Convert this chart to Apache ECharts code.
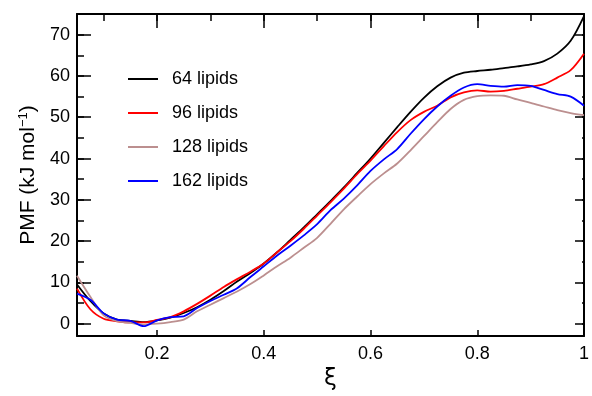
<!DOCTYPE html>
<html>
<head>
<meta charset="utf-8">
<script src="https://cdn.jsdelivr.net/npm/echarts@6/dist/echarts.min.js"></script>
<style>
  html, body { margin: 0; padding: 0; background: #fff; }
  #chart { width: 592px; height: 396px; }
</style>
</head>
<body>
<div id="chart"></div>
<script>
const xs = [0.05, 0.075, 0.1, 0.125, 0.15, 0.175, 0.2, 0.225, 0.25, 0.275, 0.3, 0.325, 0.35,
  0.375, 0.4, 0.425, 0.45, 0.475, 0.5, 0.525, 0.55, 0.575, 0.6, 0.625, 0.65, 0.675, 0.7,
  0.725, 0.75, 0.775, 0.8, 0.825, 0.85, 0.875, 0.9, 0.925, 0.95, 0.975, 1.0];

const lipids64 = [9.5, 5.5, 2.5, 1.0, 0.7, 0.4, 0.8, 1.5, 2.6, 4.0, 5.8, 7.9, 10.2,
  12.3, 14.6, 17.3, 20.3, 23.3, 26.5, 29.7, 33.0, 36.5, 40.0, 43.8, 47.6, 51.3, 54.7,
  57.5, 59.6, 60.8, 61.2, 61.5, 61.9, 62.3, 62.8, 63.6, 65.4, 68.5, 74.5];

const lipids96 = [8.5, 3.5, 1.2, 0.6, 0.3, 0.3, 0.9, 1.6, 3.0, 4.8, 6.8, 8.9, 10.8,
  12.6, 14.6, 17.3, 20.0, 23.0, 26.2, 29.4, 32.7, 36.2, 39.5, 43.0, 46.4, 49.3, 51.3,
  52.8, 54.8, 56.0, 56.5, 56.2, 56.4, 56.9, 57.4, 58.0, 59.6, 61.4, 65.4];

const lipids128 = [11.6, 6.5, 2.0, 0.6, 0.2, -0.2, 0.0, 0.4, 1.0, 3.0, 4.6, 6.2, 7.8,
  9.6, 11.7, 13.9, 16.0, 18.4, 20.8, 24.2, 27.7, 30.8, 33.8, 36.4, 38.8, 42.0, 45.4,
  48.8, 52.0, 54.2, 55.1, 55.3, 55.2, 54.3, 53.5, 52.6, 51.7, 51.0, 50.5];

const lipids162 = [7.3, 5.8, 2.5, 1.0, 0.7, -0.6, 0.8, 1.6, 1.8, 3.8, 5.5, 7.0, 8.6,
  11.3, 13.9, 16.5, 18.9, 21.4, 24.1, 27.5, 30.3, 33.5, 37.0, 39.8, 42.3, 46.0, 49.5,
  52.6, 55.2, 57.2, 58.0, 57.6, 57.4, 57.8, 57.6, 56.6, 55.6, 55.0, 52.8];

const seriesNames = ['64 lipids', '96 lipids', '128 lipids', '162 lipids'];
const seriesColors = ['#000000', '#ff0000', '#bc8f8f', '#0000ff'];
const seriesValues = [lipids64, lipids96, lipids128, lipids162];

const font = 'Liberation Sans, Arial, sans-serif';
const chart = echarts.init(document.getElementById('chart'));

const PLOT_W = 512, PLOT_H = 330;

function frameX(position, labels) {
  return {
    type: 'value', min: 0.05, max: 1, splitNumber: 5, position,
    axisLine: { show: true, onZero: false, lineStyle: { color: '#000', width: 2 } },
    axisTick: { show: false },
    splitLine: { show: false },
    axisLabel: labels ? { show: true, fontSize: 18, color: '#000', margin: 9, fontFamily: font,
      showMinLabel: false, formatter: v => (Math.abs(v - 1) < 1e-9 ? '1' : v.toFixed(1)) } : { show: false }
  };
}
function frameY(position, labels) {
  return {
    type: 'value', min: -3, max: 75, splitNumber: 8, position,
    axisLine: { show: true, onZero: false, lineStyle: { color: '#000', width: 2 } },
    axisTick: { show: false },
    splitLine: { show: false },
    axisLabel: labels ? { show: true, fontSize: 18, color: '#000', margin: 7, fontFamily: font,
      showMinLabel: false, showMaxLabel: false } : { show: false }
  };
}
// inside ticks don't render here: fake them with split lines dashed so only both ends show
function tickX(len, splitNumber) {
  return {
    type: 'value', min: 0.05, max: 1, splitNumber, position: 'bottom',
    axisLine: { show: false, onZero: false },
    axisTick: { show: false },
    axisLabel: { show: false },
    splitLine: { show: true, lineStyle: { color: '#000', width: 1.5,
      type: [len, PLOT_H - 2 * len, len, 1000] } }
  };
}
function tickY(len, splitNumber) {
  return {
    type: 'value', min: -3, max: 75, splitNumber, position: 'left',
    axisLine: { show: false, onZero: false },
    axisTick: { show: false },
    axisLabel: { show: false },
    splitLine: { show: true, lineStyle: { color: '#000', width: 1.5,
      type: [len, PLOT_W - 2 * len, len, 1000] } }
  };
}

const xMain = frameX('bottom', true);
xMain.name = 'ξ';
xMain.nameLocation = 'middle';
xMain.nameGap = 30;
xMain.nameTextStyle = { fontSize: 23, fontFamily: 'DejaVu Sans, sans-serif', color: '#000' };

const yMain = frameY('left', true);
yMain.name = '{n|PMF (kJ mol}{s|−1}{n|)}';
yMain.nameLocation = 'middle';
yMain.nameGap = 35;
yMain.nameRotate = 90;
yMain.nameTextStyle = { rich: {
  n: { fontSize: 21, fontFamily: font, color: '#000' },
  s: { fontSize: 13, fontFamily: font, color: '#000', verticalAlign: 'top', padding: [0, 0, 10, 0] }
} };

chart.setOption({
  animation: false,
  backgroundColor: '#fff',
  textStyle: { fontFamily: font },
  grid: { show: false, left: 77, right: 3, top: 14, bottom: 52, containLabel: false },
  legend: {
    data: seriesNames,
    orient: 'vertical',
    left: 122, top: 65,
    itemWidth: 30, itemHeight: 14, itemGap: 16,
    itemStyle: { opacity: 0 },
    textStyle: { fontSize: 18, fontFamily: font, color: '#000', padding: [0, 0, 0, 9] }
  },
  xAxis: [xMain, frameX('top', false), tickX(14, 5), tickX(7, 10)],
  yAxis: [yMain, frameY('right', false), tickY(14, 8), tickY(7, 16)],
  series: seriesNames.map((name, i) => ({
    name,
    type: 'line',
    data: xs.map((x, k) => [x, seriesValues[i][k]]),
    symbol: 'none',
    smooth: 0.3,
    color: seriesColors[i],
    lineStyle: { color: seriesColors[i], width: 1.8 },
    z: i === 0 ? 2 : 3
  }))
});
</script>
</body>
</html>
